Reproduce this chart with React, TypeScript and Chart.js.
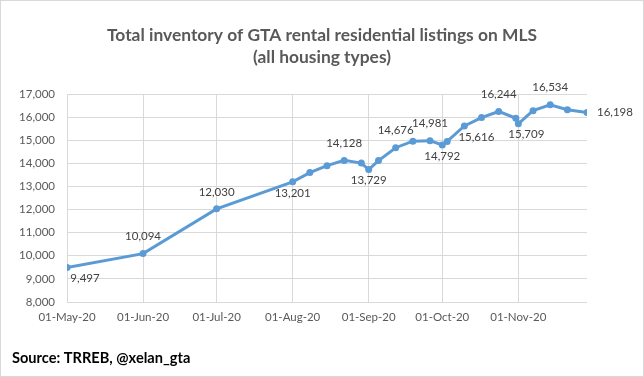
import React, { useEffect, useRef } from 'react';
import { Chart, registerables } from 'chart.js';

Chart.register(...registerables);

// ---- Data ----
const dates: string[] = [
  '2020-05-01', '2020-06-01', '2020-07-01', '2020-08-01', '2020-08-08', '2020-08-15',
  '2020-08-22', '2020-08-29', '2020-09-01', '2020-09-05', '2020-09-12', '2020-09-19',
  '2020-09-26', '2020-10-01', '2020-10-03', '2020-10-10', '2020-10-17', '2020-10-24',
  '2020-10-31', '2020-11-01', '2020-11-07', '2020-11-14', '2020-11-21', '2020-11-29',
];
const listings: number[] = [
  9497, 10094, 12030, 13201, 13600, 13900,
  14128, 14010, 13729, 14120, 14676, 14960,
  14981, 14792, 14950, 15616, 15980, 16244,
  15950, 15709, 16280, 16534, 16320, 16198,
];
const xTickDates: string[] = [
  '2020-05-01', '2020-06-01', '2020-07-01', '2020-08-01', '2020-09-01', '2020-10-01', '2020-11-01',
];
const yMin = 8000;
const yMax = 17000;
const yStep = 1000;

const titleLines: string[] = [
  'Total inventory of GTA rental residential listings on MLS',
  '(all housing types)',
];
const sourceText = 'Source: TRREB, @xelan_gta';

// which points carry a value label, and where ('a' above, 'b' below, 'br' below-right, 'r' right)
const labelPlacement: Record<number, string> = {
  0: 'br0', 1: 'a', 2: 'a', 3: 'b', 6: 'a', 8: 'b', 10: 'a', 12: 'a',
  13: 'b', 15: 'br', 17: 'a', 19: 'br2', 21: 'a', 23: 'r',
};

const MONTHS = ['Jan', 'Feb', 'Mar', 'Apr', 'May', 'Jun', 'Jul', 'Aug', 'Sep', 'Oct', 'Nov', 'Dec'];
const DAY = 86400000;
const ORIGIN = Date.UTC(2020, 4, 1);
const toDay = (s: string) => (Date.parse(s + 'T00:00:00Z') - ORIGIN) / DAY;
const fmtDay = (d: number) => {
  const dt = new Date(ORIGIN + d * DAY);
  const dd = String(dt.getUTCDate()).padStart(2, '0');
  return `${dd}-${MONTHS[dt.getUTCMonth()]}-${String(dt.getUTCFullYear()).slice(2)}`;
};
const fmtNum = (v: number) => v.toLocaleString('en-US');

const FONT = 'Lato, "Open Sans", sans-serif';

const framePlugin = {
  id: 'frame',
  beforeDraw(chart: any) {
    const { ctx, width, height } = chart;
    ctx.save();
    ctx.fillStyle = '#ffffff';
    ctx.fillRect(0, 0, width, height);
    ctx.strokeStyle = '#d9d9d9';
    ctx.lineWidth = 1;
    ctx.strokeRect(0.5, 0.5, width - 1, height - 1);
    ctx.restore();
  },
  afterDraw(chart: any) {
    const { ctx, width } = chart;
    ctx.save();
    ctx.fillStyle = '#595959';
    ctx.font = `bold 17.4px ${FONT}`;
    ctx.textAlign = 'center';
    ctx.textBaseline = 'alphabetic';
    ctx.fillText(titleLines[0], width / 2, 41);
    ctx.fillText(titleLines[1], width / 2, 63);
    ctx.fillStyle = '#000000';
    ctx.font = `bold 14.6px ${FONT}`;
    ctx.textAlign = 'left';
    ctx.fillText(sourceText, 12, 363);
    ctx.restore();
  },
};

const labelPlugin = {
  id: 'valueLabels',
  afterDatasetsDraw(chart: any) {
    const { ctx } = chart;
    const meta = chart.getDatasetMeta(0);
    ctx.save();
    ctx.fillStyle = '#404040';
    ctx.font = `11.5px ${FONT}`;
    ctx.textBaseline = 'middle';
    Object.keys(labelPlacement).forEach((k) => {
      const i = Number(k);
      const el = meta.data[i];
      if (!el) return;
      const text = fmtNum(listings[i]);
      const p = labelPlacement[i];
      let x = el.x;
      let y = el.y;
      ctx.textAlign = 'center';
      if (p === 'a') { y -= 17; }
      else if (p === 'b') { y += 11; }
      else if (p === 'br') { y += 11; x += 12; }
      else if (p === 'br2') { y += 10; x += 8; }
      else if (p === 'br0') { y += 11; x += 18; }
      else if (p === 'r') { x += 10; ctx.textAlign = 'left'; }
      ctx.fillText(text, x, y);
    });
    ctx.restore();
  },
};

export default function App() {
  const ref = useRef<HTMLCanvasElement | null>(null);
  useEffect(() => {
    if (!ref.current) return;
    const points = dates.map((d, i) => ({ x: toDay(d), y: listings[i] }));
    const chart = new Chart(ref.current, {
      type: 'line',
      data: {
        datasets: [
          {
            data: points,
            borderColor: '#5b9bd5',
            backgroundColor: '#5b9bd5',
            borderWidth: 3,
            pointRadius: 3.5,
            pointBackgroundColor: '#5b9bd5',
            pointBorderWidth: 0,
            tension: 0,
          },
        ],
      },
      options: {
        animation: false,
        responsive: false,
        devicePixelRatio: 1,
        layout: { padding: { top: 94, left: 0, right: 57, bottom: 45 } },
        plugins: { legend: { display: false }, tooltip: { enabled: false }, title: { display: false } },
        scales: {
          x: {
            type: 'linear',
            min: toDay(xTickDates[0]),
            max: toDay(dates[dates.length - 1]),
            afterBuildTicks: (scale: any) => {
              scale.ticks = xTickDates.map((d) => ({ value: toDay(d) }));
            },
            afterFit: (scale: any) => { scale.height = 30; },
            grid: { color: '#d9d9d9', lineWidth: 1, drawTicks: false },
            border: { display: false },
            ticks: {
              padding: 8,
              color: '#595959',
              font: { family: FONT, size: 11.5 },
              maxRotation: 0,
              autoSkip: false,
              callback: (v: any) => fmtDay(Number(v)),
            },
          },
          y: {
            min: yMin,
            max: yMax,
            afterFit: (scale: any) => { scale.width = 67; },
            grid: { color: '#d9d9d9', lineWidth: 1, drawTicks: false },
            border: { display: false },
            ticks: {
              stepSize: yStep,
              padding: 12,
              color: '#595959',
              font: { family: FONT, size: 11.5 },
              callback: (v: any) => fmtNum(Number(v)),
            },
          },
        },
      },
      plugins: [framePlugin, labelPlugin],
    });
    return () => chart.destroy();
  }, []);
  return (
    <div style={{ position: 'absolute', left: 0, top: 0, width: 644, height: 377 }}>
      <canvas ref={ref} width={644} height={377} style={{ width: 644, height: 377, display: 'block' }} />
    </div>
  );
}
